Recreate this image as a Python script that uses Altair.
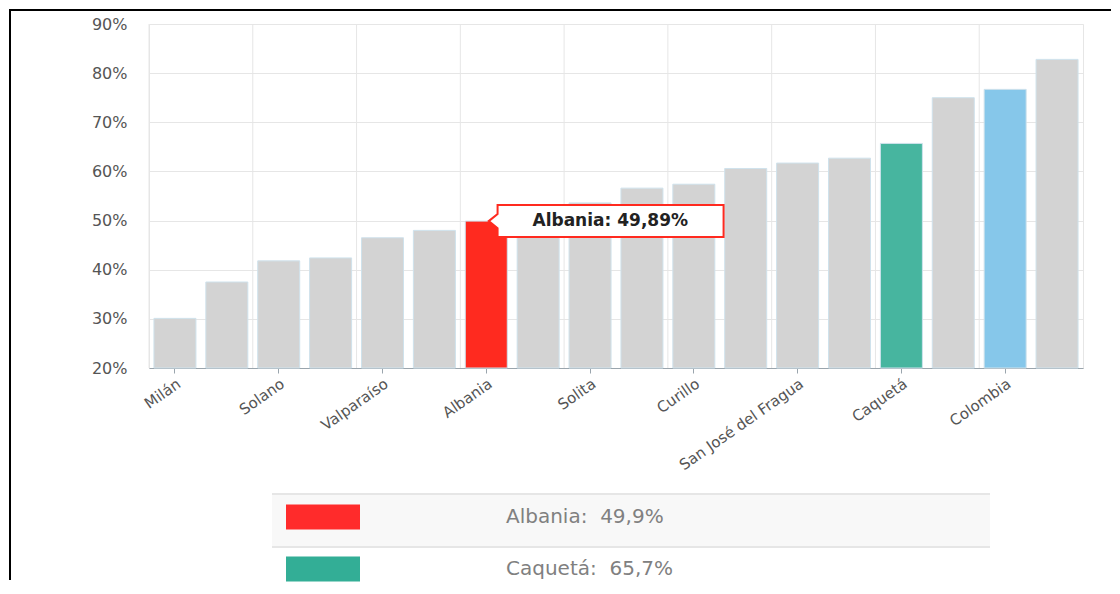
import altair as alt
import pandas as pd

# ---- data ----
names = ["Milán", "Florencia", "Solano", "Belén de los Andaquíes", "Valparaíso",
         "Morelia", "Albania", "El Paujil", "Solita", "La Montañita", "Curillo",
         "El Doncello", "San José del Fragua", "Puerto Rico", "Caquetá",
         "Cartagena del Chairá", "Colombia", "San Vicente del Caguán"]
values = [30.1, 37.5, 41.8, 42.4, 46.5, 48.0, 49.89, 51.5, 53.6, 56.6, 57.4,
          60.6, 61.7, 62.7, 65.7, 75.0, 76.7, 82.8]
bar_colors = ["#d3d3d3"] * 6 + ["#ff2a1f"] + ["#d3d3d3"] * 7 + ["#47b59f", "#d3d3d3", "#86c7ea", "#d3d3d3"]
labeled = names[0::2]
y_ticks = [20, 30, 40, 50, 60, 70, 80, 90]

tip_name = "Albania"
tip_value = 49.89

legend_names = ["Albania", "Caquetá"]
legend_values = [49.9, 65.7]
legend_colors = ["#ff2b2b", "#33ae96"]

FONT = "DejaVu Sans"
NB = "\u00a0"

bars_df = pd.DataFrame({"name": names, "value": values, "color": bar_colors})
grid_df = pd.DataFrame({"name": labeled})
tip_df = pd.DataFrame({"name": [tip_name], "value": [tip_value],
                       "label": [f"{tip_name}: " + f"{tip_value:.2f}".replace(".", ",") + "%"]})
legend_df = pd.DataFrame({
    "row": legend_names,
    "label": [f"{n}:{NB}{NB}" + f"{v:.1f}".replace(".", ",") + "%" for n, v in zip(legend_names, legend_values)],
    "color": legend_colors,
})
frame_df = pd.DataFrame({"k": [0]})

xscale = alt.Scale(domain=names, paddingInner=0, paddingOuter=0)
yscale = alt.Scale(domain=[20, 90], zero=False, nice=False)

x_axis = alt.Axis(values=labeled, labelAngle=-35, labelFont=FONT, labelFontSize=15,
                  labelColor="#555555", tickColor="#9aa5ad", tickSize=5,
                  domainColor="#9aa5ad", grid=False, title=None, labelPadding=3)
y_axis = alt.Axis(values=y_ticks, labelExpr="datum.value + '%'", labelFont=FONT,
                  labelFontSize=16, labelColor="#555555", ticks=False, domain=False,
                  grid=True, gridColor="#e6e6e6", title=None, labelPadding=22)

X = alt.X("name:N", scale=xscale, axis=x_axis, sort=None)
Y = alt.Y("value:Q", scale=yscale, axis=y_axis)

frame_top = alt.Chart(frame_df).mark_rule(color="black", strokeWidth=2).encode(
    x=alt.value(-140), x2=alt.value(962), y=alt.value(-14))
frame_left = alt.Chart(frame_df).mark_rule(color="black", strokeWidth=2).encode(
    x=alt.value(-139), y=alt.value(-15), y2=alt.value(556))

grid = alt.Chart(grid_df).mark_rule(color="#e6e6e6", strokeWidth=1).encode(
    x=alt.X("name:N", scale=xscale, axis=x_axis, sort=None, bandPosition=0))

bars = alt.Chart(bars_df).mark_bar(width=42, stroke="#cfe2ec", strokeWidth=1).encode(
    x=X, y=Y, y2=alt.datum(20), fill=alt.Fill("color:N", scale=None))

box_path = "M0.1,-0.1416L2.1,-0.1416L2.1,0.1416L0.1,0.1416L0.1,0.062L0.022,0L0.1,-0.062Z"
tip_box = alt.Chart(tip_df).mark_point(shape=box_path, size=113 * 113 * 4, filled=True,
                                       fill="white", stroke="#ff2a1f", strokeWidth=2,
                                       opacity=1).encode(x=X, y=Y)
tip_text = alt.Chart(tip_df).mark_text(dx=124, font=FONT, fontWeight="bold", fontSize=17,
                                       color="#222222", align="center",
                                       baseline="middle").encode(x=X, y=Y, text="label:N")

main = alt.layer(frame_top, frame_left, grid, bars, tip_box, tip_text)

ly = alt.Y("row:N", scale=alt.Scale(type="point", domain=legend_names, range=[493, 545], padding=0),
           axis=None)
bg_path = "M-1,-0.0641H1V0.0836H-1Z"
lines_path = "M-1,-0.0641H1M-1,0.0836H1"
legend_bg = alt.Chart(legend_df).transform_filter(
    alt.datum.row == legend_names[0]).mark_point(
    shape=bg_path, size=718 ** 2, filled=True, fill="#f8f8f8", strokeWidth=0, opacity=1
).encode(x=alt.value(482), y=ly)
legend_lines = alt.Chart(legend_df).transform_filter(
    alt.datum.row == legend_names[0]).mark_point(
    shape=lines_path, size=718 ** 2, filled=False, stroke="#e6e6e6", strokeWidth=2, opacity=1
).encode(x=alt.value(482), y=ly)
legend_sw = alt.Chart(legend_df).mark_point(
    shape="M-1,-0.338H1V0.338H-1Z", size=74 ** 2, filled=True, strokeWidth=0, opacity=1
).encode(x=alt.value(174), y=ly, fill=alt.Fill("color:N", scale=None))
legend_txt = alt.Chart(legend_df).mark_text(
    align="left", baseline="middle", font=FONT, fontSize=20, color="#808080"
).encode(x=alt.value(357), y=ly, text="label:N")

legend = alt.layer(legend_bg, legend_lines, legend_sw, legend_txt)

chart = alt.layer(main, legend).resolve_scale(y="independent").properties(
    width=934, height=344, padding=0
).configure_view(stroke="#e6e6e6")

chart.save("out.html", embed_options={"renderer": "svg", "actions": False})
